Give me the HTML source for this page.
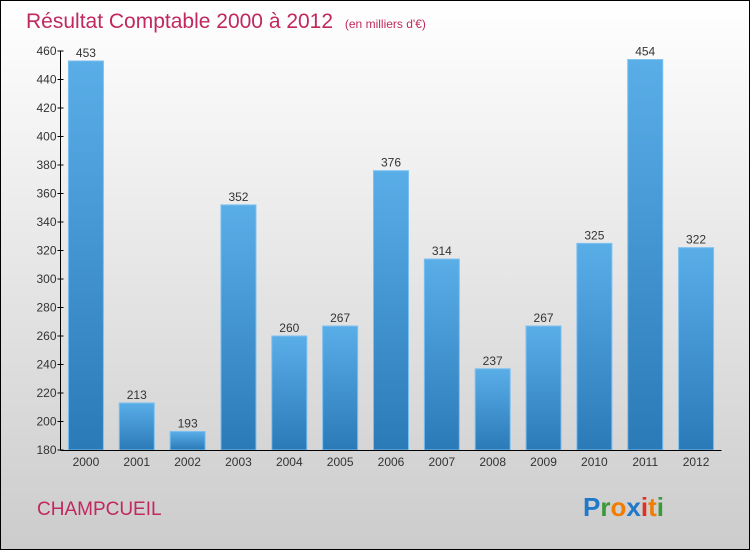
<!DOCTYPE html>
<html><head><meta charset="utf-8"><style>
body{margin:0;}
#wrap{width:748px;height:548px;border:1px solid #000;background:linear-gradient(#ffffff,#cccccc);position:relative;font-family:"Liberation Sans",sans-serif;overflow:hidden;}
</style></head><body>
<div id="wrap">
<svg id="chart" width="748" height="548">
<defs>
<linearGradient id="bg" x1="0" y1="0" x2="0" y2="1"><stop offset="0" stop-color="#5aaee8"/><stop offset="1" stop-color="#2a7ab8"/></linearGradient>
</defs>
<text x="25" y="27" font-size="21" fill="#c0285f">Résultat Comptable 2000 à 2012 <tspan font-size="12" dx="6">(en milliers d'€)</tspan></text>
<g id="bars"></g>
<g id="axes"></g>
<text x="36" y="514" font-size="19" fill="#c0285f">CHAMPCUEIL</text>
<text x="582" y="515" font-size="26" font-weight="bold"><tspan fill="#1f78c8">P</tspan><tspan fill="#3a9a3a">r</tspan><tspan fill="#f07c00">o</tspan><tspan fill="#1f78c8">x</tspan><tspan fill="#e03020">i</tspan><tspan fill="#f07c00">t</tspan><tspan fill="#3a9a3a">i</tspan></text>
</svg>
</div>
<script>
const categories=["2000","2001","2002","2003","2004","2005","2006","2007","2008","2009","2010","2011","2012"];
const values=[453,213,193,352,260,267,376,314,237,267,325,454,322];
const yTicks=[180,200,220,240,260,280,300,320,340,360,380,400,420,440,460];
const NS="http://www.w3.org/2000/svg";
const x0=59.5,x1=720.5,yMin=180,yMax=460,yTop=50,yBot=449;
const band=(x1-x0)/categories.length,bw=35;
function y(v){return yBot-(v-yMin)/(yMax-yMin)*(yBot-yTop);}
function xc(i){return x0+band*(i+0.5);}
function mk(t,a,p){const e=document.createElementNS(NS,t);for(const k in a)e.setAttribute(k,a[k]);p.appendChild(e);return e;}
const bars=document.getElementById('bars'),axes=document.getElementById('axes');
values.forEach((v,i)=>{
 const r=mk('rect',{x:xc(i)-bw/2,y:y(v),width:bw,height:yBot-y(v),fill:'url(#bg)',stroke:'#7cc0f0','stroke-width':1},bars);
 
 
 const t=mk('text',{x:xc(i),y:y(v)-4,'text-anchor':'middle','font-size':12,fill:'#333'},bars);
 t.textContent=v;
 
 
 const c=mk('text',{x:xc(i),y:yBot+16,'text-anchor':'middle','font-size':12,fill:'#333'},axes);
 c.textContent=categories[i];
 
 
});
const ya=mk('line',{x1:x0,y1:yTop,x2:x0,y2:yBot,stroke:'#000'},axes);


const xa=mk('line',{x1:x0,y1:yBot+0.5,x2:x1,y2:yBot+0.5,stroke:'#000'},axes);


yTicks.forEach(v=>{
 mk('line',{x1:x0-3,y1:y(v),x2:x0+3,y2:y(v),stroke:'#000'},axes);
 const t=mk('text',{x:x0-4,y:y(v)+4,'text-anchor':'end','font-size':12,fill:'#333'},axes);
 t.textContent=v;
 
 
});
</script>
</body></html>
